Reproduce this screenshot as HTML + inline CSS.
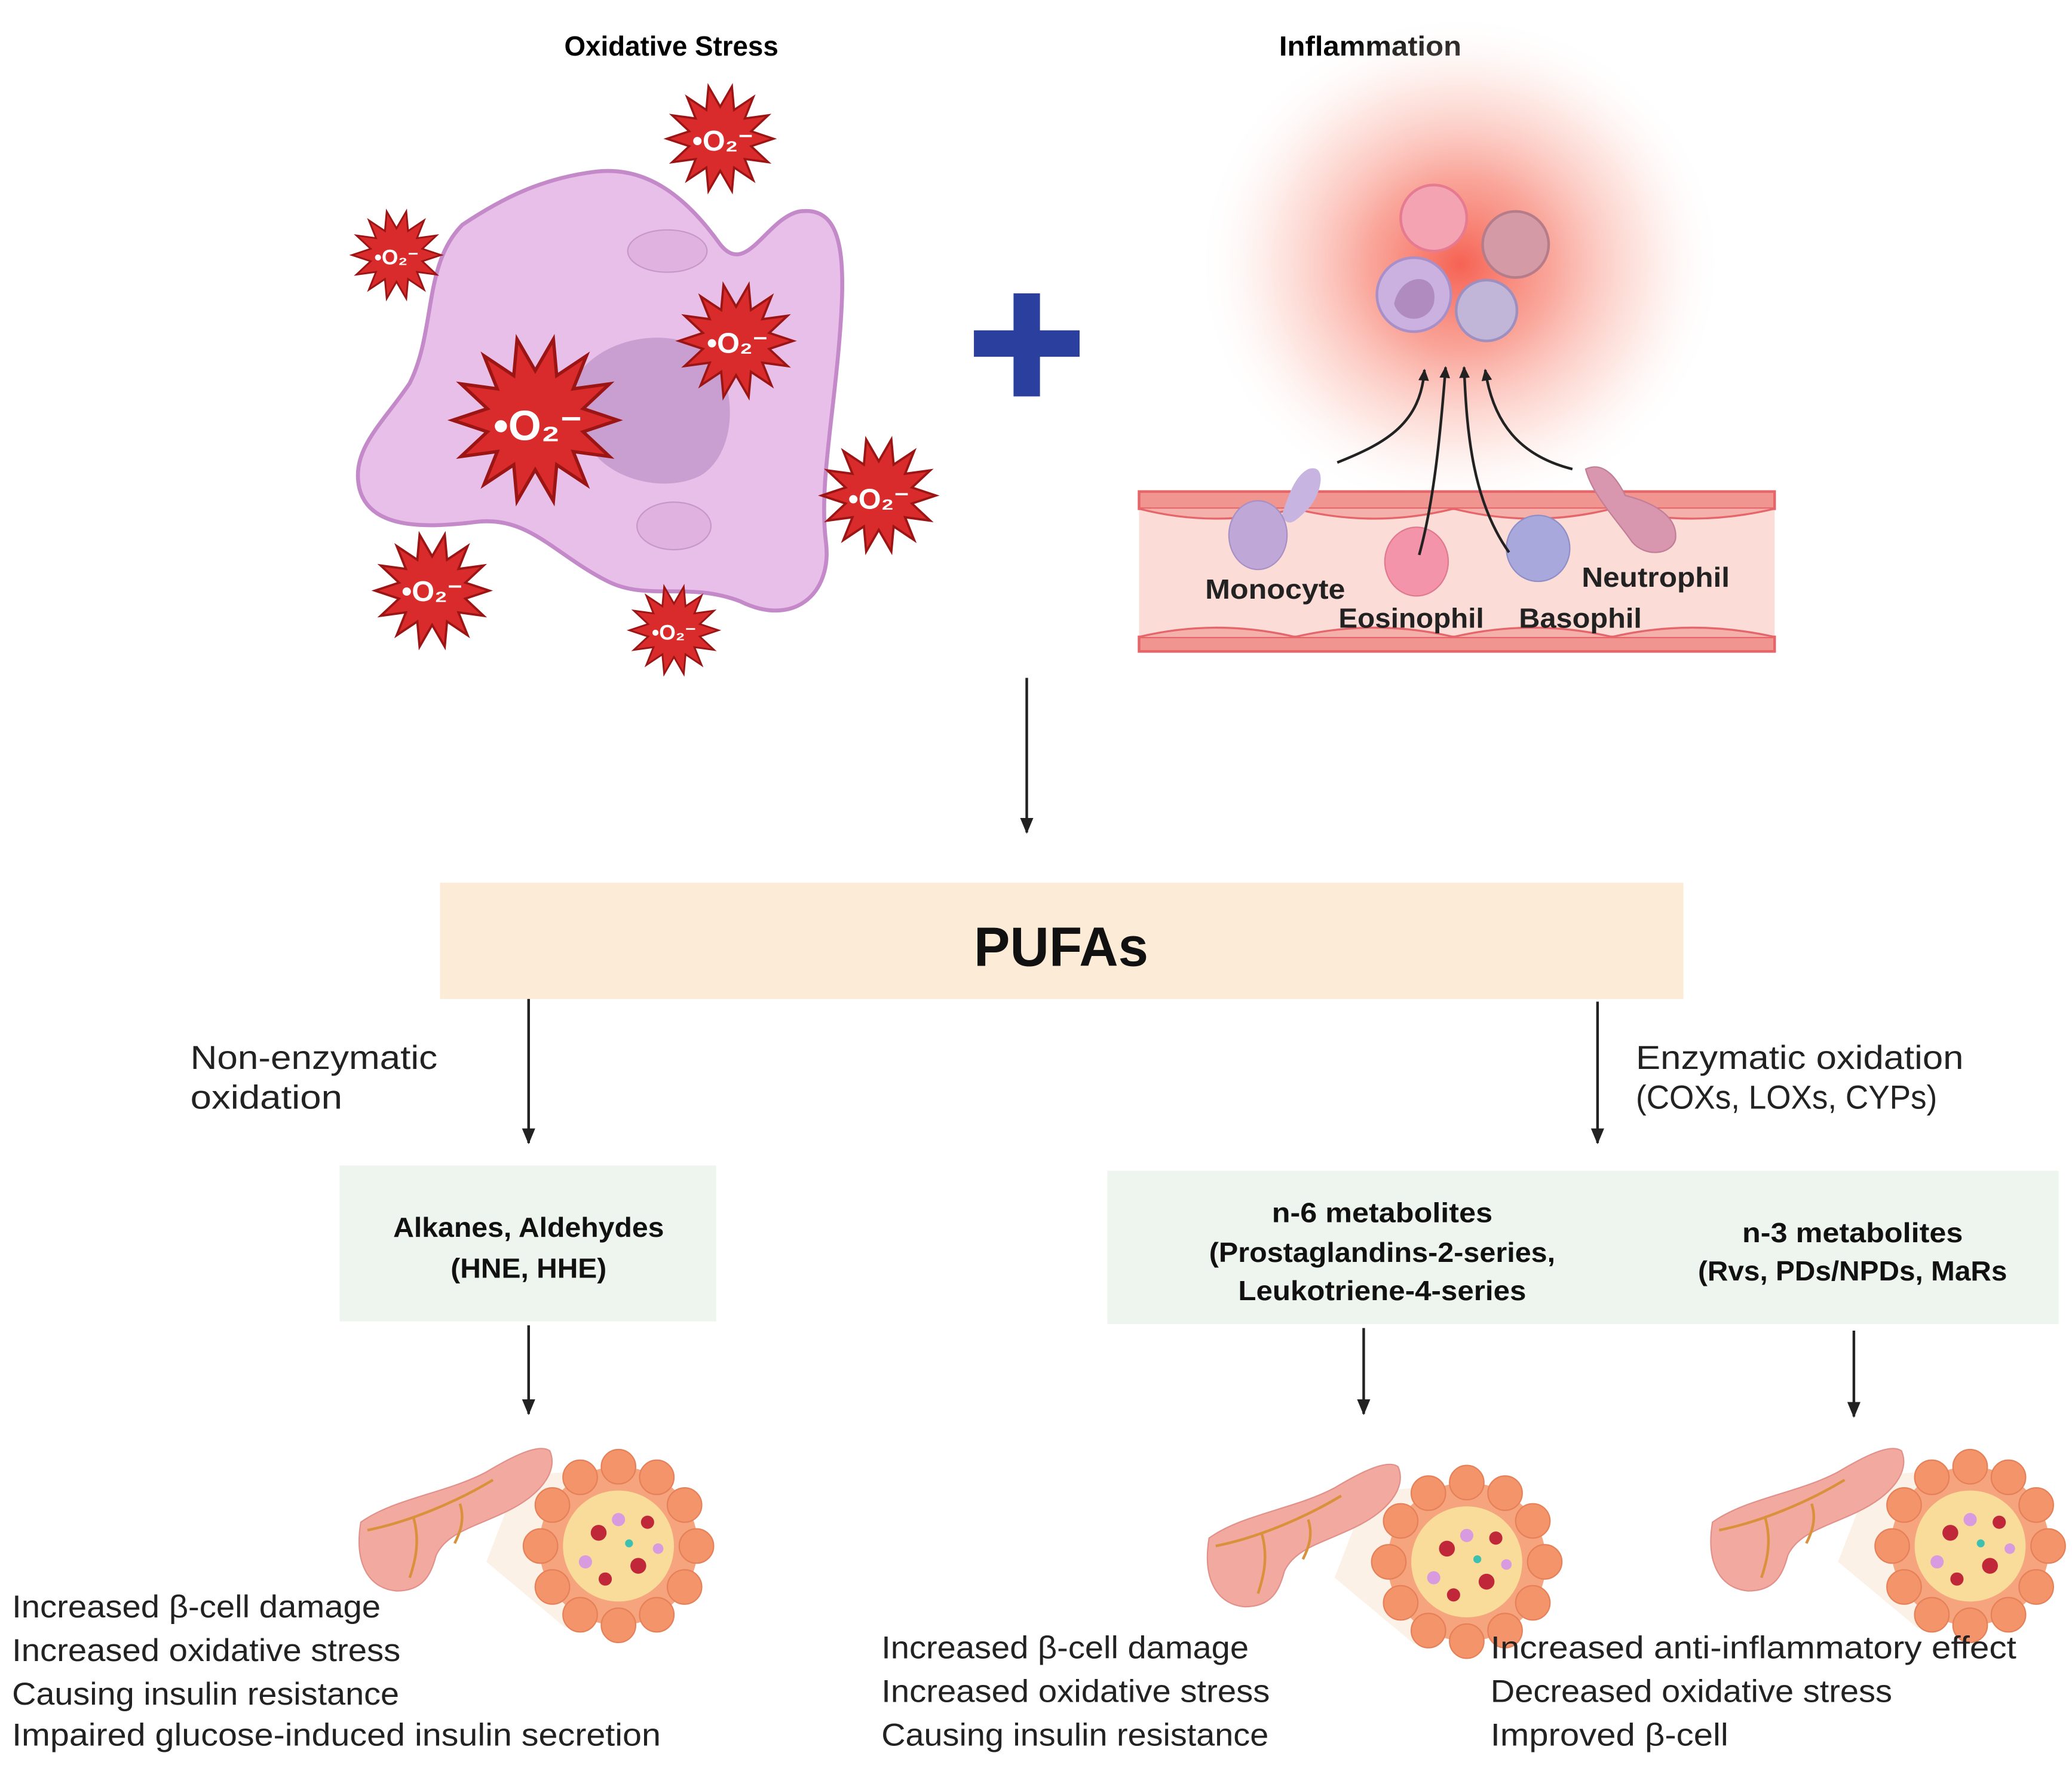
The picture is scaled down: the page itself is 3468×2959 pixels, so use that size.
<!DOCTYPE html>
<html><head><meta charset="utf-8">
<style>
html,body{margin:0;padding:0;background:#fff;}
svg{display:block;}
text{font-family:"Liberation Sans",sans-serif;}
</style></head>
<body>
<svg width="3468" height="2959" viewBox="0 0 1568 1338" xmlns="http://www.w3.org/2000/svg">
<defs>
<radialGradient id="glow" cx="0.5" cy="0.5" r="0.5">
<stop offset="0" stop-color="#f55a4a" stop-opacity="0.95"/>
<stop offset="0.35" stop-color="#f8897a" stop-opacity="0.75"/>
<stop offset="0.7" stop-color="#fcc9bf" stop-opacity="0.45"/>
<stop offset="1" stop-color="#ffffff" stop-opacity="0"/>
</radialGradient>
<marker id="ah" markerWidth="12" markerHeight="10" refX="11" refY="5" orient="auto" markerUnits="userSpaceOnUse">
<path d="M0,0 L12,5 L0,10 z" fill="#222"/>
</marker>
<marker id="au" markerWidth="9" markerHeight="8" refX="8" refY="4" orient="auto" markerUnits="userSpaceOnUse">
<path d="M0,0 L9,4 L0,8 z" fill="#222"/>
</marker>
<symbol id="star" viewBox="-52 -52 104 104" overflow="visible">
<polygon fill="#d92b2b" stroke="#9c1515" stroke-width="2" points="50,0 29,7 45,22 23,19 31,39 13,27 11,49 0,30 -11,49 -13,27 -31,39 -23,19 -45,22 -29,7 -50,0 -29,-7 -45,-22 -23,-19 -31,-39 -13,-27 -11,-49 0,-30 11,-49 13,-27 31,-39 23,-19 45,-22 29,-7"/>
</symbol>
<g id="panc">
<polygon points="125,25 185,20 195,130 160,140 100,90" fill="#fbf1e6"/>
<path d="M5,60 C30,42 70,38 100,22 C120,10 140,0 148,6 C155,22 140,40 115,52 C90,64 70,68 62,85 C58,100 52,112 32,112 C10,110 0,90 5,60 z" fill="#f2a9a0" stroke="#e2908a" stroke-width="1"/>
<path d="M10,66 C40,60 75,46 105,28 M45,57 C50,75 46,90 42,102 M80,46 C84,58 80,68 76,76" stroke="#d9913b" stroke-width="2" fill="none"/>
<circle cx="200" cy="78" r="60" fill="#f6a47e"/>
<circle cx="200" cy="78" r="42" fill="#f9dc9a"/>
<g fill="#f3946a" stroke="#e58058" stroke-width="1">
<circle cx="200" cy="18" r="13"/><circle cx="229" cy="26" r="13"/><circle cx="250" cy="47" r="13"/><circle cx="259" cy="78" r="13"/><circle cx="250" cy="109" r="13"/><circle cx="229" cy="130" r="13"/><circle cx="200" cy="138" r="13"/><circle cx="171" cy="130" r="13"/><circle cx="150" cy="109" r="13"/><circle cx="141" cy="78" r="13"/><circle cx="150" cy="47" r="13"/><circle cx="171" cy="26" r="13"/>
</g>
<g fill="#c0283a"><circle cx="185" cy="68" r="6"/><circle cx="215" cy="93" r="6"/><circle cx="190" cy="103" r="5"/><circle cx="222" cy="60" r="5"/></g>
<g fill="#d89be0"><circle cx="200" cy="58" r="5"/><circle cx="175" cy="90" r="5"/><circle cx="230" cy="80" r="4"/></g>
<circle cx="208" cy="76" r="3" fill="#3cc0b0"/>
</g>
</defs>

<text x="508" y="42" font-size="21" font-weight="bold" text-anchor="middle" textLength="162" lengthAdjust="spacingAndGlyphs">Oxidative Stress</text>
<text x="1037" y="42" font-size="21" font-weight="bold" text-anchor="middle" textLength="138" lengthAdjust="spacingAndGlyphs">Inflammation</text>

<path d="M350,170 C380,150 410,135 450,130 C490,125 520,150 545,185 C565,210 580,165 605,160 C640,155 640,200 635,260 C630,320 620,370 625,410 C630,450 600,475 560,455 C520,440 490,455 460,440 C420,420 400,390 360,395 C320,400 280,400 272,370 C265,340 290,320 310,290 C330,250 320,200 350,170 z" fill="#e8bfe8" stroke="#c489c9" stroke-width="3"/>
<path d="M440,280 C460,255 510,245 540,270 C560,300 555,345 530,360 C500,375 455,360 445,335 C435,315 430,300 440,280 z" fill="#c99fd2"/>
<ellipse cx="505" cy="190" rx="30" ry="16" fill="#e0b2df" stroke="#c797c9"/>
<ellipse cx="510" cy="398" rx="28" ry="18" fill="#e0b2df" stroke="#c797c9"/>

<use href="#star" x="503" y="63" width="84" height="84"/>
<use href="#star" x="265" y="158" width="70" height="70"/>
<use href="#star" x="512" y="213" width="90" height="90"/>
<use href="#star" x="340" y="253" width="130" height="130"/>
<use href="#star" x="620" y="330" width="90" height="90"/>
<use href="#star" x="282" y="402" width="90" height="90"/>
<use href="#star" x="475" y="442" width="70" height="70"/>
<g fill="#fff" font-weight="bold" text-anchor="middle">
<text x="547" y="114" font-size="22">•O₂⁻</text>
<text x="300" y="200" font-size="16">•O₂⁻</text>
<text x="558" y="267" font-size="22">•O₂⁻</text>
<text x="407" y="333" font-size="32">•O₂⁻</text>
<text x="665" y="385" font-size="22">•O₂⁻</text>
<text x="327" y="455" font-size="22">•O₂⁻</text>
<text x="510" y="484" font-size="16">•O₂⁻</text>
</g>

<rect x="767" y="222" width="20" height="78" fill="#2a3f9e"/>
<rect x="737" y="250" width="80" height="20" fill="#2a3f9e"/>

<ellipse cx="1105" cy="200" rx="200" ry="190" fill="url(#glow)"/>
<circle cx="1085" cy="165" r="25" fill="#f4a3b2" stroke="#e57a90" stroke-width="2"/>
<circle cx="1147" cy="185" r="25" fill="#d49aa6" stroke="#b77c8a" stroke-width="2"/>
<circle cx="1070" cy="223" r="28" fill="#cbb1e0" stroke="#a98fc8" stroke-width="2"/>
<path d="M1055,230 C1060,205 1090,205 1085,230 C1080,245 1060,245 1055,230z" fill="#b08bc0"/>
<circle cx="1125" cy="235" r="23" fill="#c1b5d8" stroke="#9e8fbf" stroke-width="2"/>

<rect x="862" y="372" width="481" height="121" fill="#fcdcd6"/>
<rect x="862" y="372" width="481" height="13" fill="#f19591" stroke="#e5656a" stroke-width="2"/>
<rect x="862" y="482" width="481" height="11" fill="#f19591" stroke="#e5656a" stroke-width="2"/>
<path d="M862,385 Q920,400 980,385 Q1040,400 1100,385 Q1160,400 1220,385 Q1280,400 1343,385" fill="#f4b1ab" stroke="#e5656a" stroke-width="1.5"/>
<path d="M862,482 Q920,468 980,482 Q1040,468 1100,482 Q1160,468 1220,482 Q1280,468 1343,482" fill="#f4b1ab" stroke="#e5656a" stroke-width="1.5"/>
<path d="M990,355 C1005,350 1000,375 990,385 C980,395 975,400 970,390 C975,375 980,360 990,355z" fill="#c8b4e0"/>
<ellipse cx="952" cy="405" rx="22" ry="26" fill="#bfa8d8" stroke="#a690c6"/>
<ellipse cx="1072" cy="425" rx="24" ry="26" fill="#f494aa" stroke="#e07890"/>
<ellipse cx="1164" cy="415" rx="24" ry="25" fill="#a8a8dc" stroke="#8f8fc8"/>
<path d="M1200,355 C1215,348 1225,365 1230,375 C1250,380 1270,390 1268,408 C1265,420 1245,422 1235,410 C1225,395 1205,375 1200,355z" fill="#d897ae" stroke="#c07f96"/>
<g stroke="#222" stroke-width="2" fill="none">
<path d="M1012,350 C1050,335 1075,320 1078,280" marker-end="url(#au)"/>
<path d="M1074,420 C1085,380 1090,330 1094,278" marker-end="url(#au)"/>
<path d="M1142,418 C1115,380 1110,330 1108,278" marker-end="url(#au)"/>
<path d="M1190,355 C1150,345 1130,320 1124,280" marker-end="url(#au)"/>
</g>
<g font-size="21" font-weight="bold" fill="#222" text-anchor="middle">
<text x="965" y="453" textLength="106" lengthAdjust="spacingAndGlyphs">Monocyte</text>
<text x="1068" y="475" textLength="110" lengthAdjust="spacingAndGlyphs">Eosinophil</text>
<text x="1196" y="475" textLength="93" lengthAdjust="spacingAndGlyphs">Basophil</text>
<text x="1253" y="444" textLength="112" lengthAdjust="spacingAndGlyphs">Neutrophil</text>
</g>

<line x1="777" y1="513" x2="777" y2="630" stroke="#222" stroke-width="2" marker-end="url(#ah)"/>

<rect x="333" y="668" width="941" height="88" fill="#fcebd6"/>
<text x="803" y="731" font-size="42" font-weight="bold" text-anchor="middle" fill="#111" textLength="132" lengthAdjust="spacingAndGlyphs">PUFAs</text>

<line x1="400" y1="756" x2="400" y2="865" stroke="#222" stroke-width="2" marker-end="url(#ah)"/>
<line x1="1209" y1="758" x2="1209" y2="865" stroke="#222" stroke-width="2" marker-end="url(#ah)"/>

<g font-size="25" fill="#222">
<text x="144" y="809" textLength="187" lengthAdjust="spacingAndGlyphs">Non-enzymatic</text>
<text x="144" y="839" textLength="115" lengthAdjust="spacingAndGlyphs">oxidation</text>
<text x="1238" y="809" textLength="248" lengthAdjust="spacingAndGlyphs">Enzymatic oxidation</text>
<text x="1238" y="839" textLength="228" lengthAdjust="spacingAndGlyphs">(COXs, LOXs, CYPs)</text>
</g>

<rect x="257" y="882" width="285" height="118" fill="#eef5ee"/>
<rect x="838" y="886" width="720" height="116" fill="#eef5ee"/>
<g font-size="21" font-weight="bold" fill="#111" text-anchor="middle">
<text x="400" y="936" textLength="205" lengthAdjust="spacingAndGlyphs">Alkanes, Aldehydes</text>
<text x="400" y="967" textLength="118" lengthAdjust="spacingAndGlyphs">(HNE, HHE)</text>
<text x="1046" y="925" textLength="167" lengthAdjust="spacingAndGlyphs">n-6 metabolites</text>
<text x="1046" y="955" textLength="262" lengthAdjust="spacingAndGlyphs">(Prostaglandins-2-series,</text>
<text x="1046" y="984" textLength="218" lengthAdjust="spacingAndGlyphs">Leukotriene-4-series</text>
<text x="1402" y="940" textLength="167" lengthAdjust="spacingAndGlyphs">n-3 metabolites</text>
<text x="1402" y="969" textLength="234" lengthAdjust="spacingAndGlyphs">(Rvs, PDs/NPDs, MaRs</text>
</g>

<line x1="400" y1="1003" x2="400" y2="1070" stroke="#222" stroke-width="2" marker-end="url(#ah)"/>
<line x1="1032" y1="1005" x2="1032" y2="1070" stroke="#222" stroke-width="2" marker-end="url(#ah)"/>
<line x1="1403" y1="1007" x2="1403" y2="1072" stroke="#222" stroke-width="2" marker-end="url(#ah)"/>

<use href="#panc" x="268" y="1092"/>
<use href="#panc" x="910" y="1104"/>
<use href="#panc" x="1291" y="1092"/>

<g font-size="24" fill="#222">
<text x="9" y="1224" textLength="279" lengthAdjust="spacingAndGlyphs">Increased β-cell damage</text>
<text x="9" y="1257" textLength="294" lengthAdjust="spacingAndGlyphs">Increased oxidative stress</text>
<text x="9" y="1290" textLength="293" lengthAdjust="spacingAndGlyphs">Causing insulin resistance</text>
<text x="9" y="1321" textLength="491" lengthAdjust="spacingAndGlyphs">Impaired glucose-induced insulin secretion</text>
<text x="667" y="1255" textLength="278" lengthAdjust="spacingAndGlyphs">Increased β-cell damage</text>
<text x="667" y="1288" textLength="294" lengthAdjust="spacingAndGlyphs">Increased oxidative stress</text>
<text x="667" y="1321" textLength="293" lengthAdjust="spacingAndGlyphs">Causing insulin resistance</text>
<text x="1128" y="1255" textLength="398" lengthAdjust="spacingAndGlyphs">Increased anti-inflammatory effect</text>
<text x="1128" y="1288" textLength="304" lengthAdjust="spacingAndGlyphs">Decreased oxidative stress</text>
<text x="1128" y="1321" textLength="180" lengthAdjust="spacingAndGlyphs">Improved β-cell</text>
</g>
</svg>
</body></html>
